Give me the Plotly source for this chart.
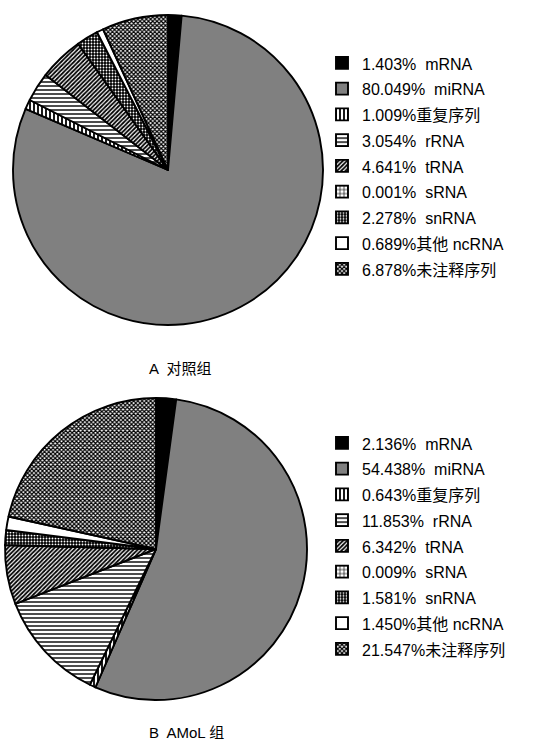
import plotly.graph_objects as go

W, H = 535, 751

categories = ["mRNA", "miRNA", "重复序列", "rRNA", "tRNA", "sRNA", "snRNA", "其他 ncRNA", "未注释序列"]
control_values = [1.403, 80.049, 1.009, 3.054, 4.641, 0.001, 2.278, 0.689, 6.878]
amol_values = [2.136, 54.438, 0.643, 11.853, 6.342, 0.009, 1.581, 1.450, 21.547]
control_labels = ["1.403%  mRNA", "80.049%  miRNA", "1.009%重复序列", "3.054%  rRNA", "4.641%  tRNA",
                  "0.001%  sRNA", "2.278%  snRNA", "0.689%其他 ncRNA", "6.878%未注释序列"]
amol_labels = ["2.136%  mRNA", "54.438%  miRNA", "0.643%重复序列", "11.853%  rRNA", "6.342%  tRNA",
               "0.009%  sRNA", "1.581%  snRNA", "1.450%其他 ncRNA", "21.547%未注释序列"]
captions = ["A  对照组", "B  AMoL 组"]

base_colors = ["#000000", "#808080", "#ffffff", "#ffffff", "#ffffff", "#ffffff", "#000000", "#ffffff", "#ffffff"]
shapes = ["", "", "|", "-", "/", "+", ".", "", "x"]
fg = ["#000000", "#000000", "#000000", "#000000", "#000000", "#000000", "#ffffff", "#000000", "#000000"]
bg = ["#000000", "#808080", "#ffffff", "#ffffff", "#ffffff", "#ffffff", "#000000", "#ffffff", "#ffffff"]
sizes = [4, 4, 4, 4, 3, 4, 3, 4, 3]
solid = [0.3, 0.3, 0.45, 0.35, 0.6, 0.3, 0.3, 0.3, 0.65]

FONT = "Liberation Sans, Arial, Noto Sans CJK SC, sans-serif"


def px_dom(cx, cy, r):
    return dict(x=[(cx - r) / W, (cx + r) / W], y=[1 - (cy + r) / H, 1 - (cy - r) / H])


def span(s):
    return "<span style='font-size:16px'>" + s + "</span>"


def make_pie(labels, values, dom, legend):
    return go.Pie(
        labels=[span(s) for s in labels], values=values, sort=False, direction="clockwise", rotation=0,
        textinfo="none", hoverinfo="label", domain=dom, legend=legend,
        marker=dict(colors=base_colors, line=dict(color="#000000", width=1.9),
                    pattern=dict(shape=shapes, fgcolor=fg, bgcolor=bg, size=sizes,
                                 solidity=solid, fillmode="replace")),
    )


fig = go.Figure()
fig.add_trace(make_pie(control_labels, control_values, px_dom(168, 170, 155), "legend"))
fig.add_trace(make_pie(amol_labels, amol_values, px_dom(156, 549, 151), "legend2"))

leg_common = dict(font=dict(family=FONT, size=17.5, color="#000000"), bgcolor="rgba(0,0,0,0)",
                  xanchor="left", yanchor="top", traceorder="normal", itemclick=False)
fig.update_layout(
    width=W, height=H, margin=dict(l=0, r=0, t=0, b=0),
    paper_bgcolor="white", plot_bgcolor="white",
    font=dict(family=FONT, color="#000000"),
    legend=dict(x=322 / W, y=1 - 45 / H, **leg_common),
    legend2=dict(x=322 / W, y=1 - 425 / H, **leg_common),
    annotations=[
        dict(text=captions[0], x=147 / W, y=1 - 368 / H, xref="paper", yref="paper", xanchor="left",
             showarrow=False, font=dict(family=FONT, size=15)),
        dict(text=captions[1], x=147 / W, y=1 - 743 / H, xref="paper", yref="paper", xanchor="left",
             showarrow=False, font=dict(family=FONT, size=15)),
    ],
)
fig.write_html("out.html")
